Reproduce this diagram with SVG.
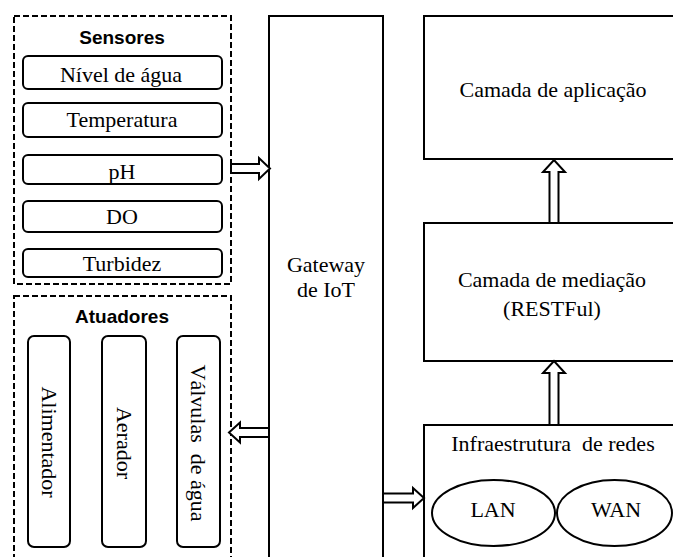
<svg xmlns="http://www.w3.org/2000/svg" width="673" height="557" viewBox="0 0 673 557">
<style>
.t{font-family:"Liberation Serif","Times New Roman",serif;font-size:22px;fill:#000;text-anchor:middle;white-space:pre}
.h{font-family:"Liberation Sans",Arial,sans-serif;font-size:19px;font-weight:bold;fill:#000;text-anchor:middle}
.box{fill:#fff;stroke:#000;stroke-width:2}
.dash{fill:none;stroke:#000;stroke-width:2;stroke-dasharray:6 3}
.arr{fill:#fff;stroke:#000;stroke-width:2;stroke-linejoin:miter}
</style>
<rect width="673" height="557" fill="#fff"/>
<g id="sensores">
<rect class="dash" x="14" y="16" width="217" height="268"/>
<text class="h" x="122" y="44">Sensores</text>
</g>
<g id="nivel"><rect class="box" x="23" y="56" width="199" height="33" rx="5"/><text class="t" x="121" y="82">Nível de água</text></g>
<g id="temperatura"><rect class="box" x="23" y="103" width="199" height="34" rx="5"/><text class="t" x="122" y="127">Temperatura</text></g>
<g id="ph"><rect class="box" x="23" y="155" width="199" height="29" rx="5"/><text class="t" x="122" y="179">pH</text></g>
<g id="do"><rect class="box" x="23" y="201" width="199" height="31" rx="5"/><text class="t" x="122" y="224">DO</text></g>
<g id="turbidez"><rect class="box" x="23" y="249" width="199" height="28" rx="5"/><text class="t" x="122" y="271">Turbidez</text></g>
<g id="atuadores">
<rect class="dash" x="14" y="296" width="217" height="275"/>
<text class="h" x="122" y="323">Atuadores</text>
</g>
<g id="alimentador"><rect class="box" x="28" y="336" width="42" height="211" rx="6"/><text class="t" transform="translate(49,442) rotate(90)" dominant-baseline="central">Alimentador</text></g>
<g id="aerador"><rect class="box" x="102" y="336" width="44" height="211" rx="6"/><text class="t" transform="translate(124,443) rotate(90)" dominant-baseline="central">Aerador</text></g>
<g id="valvulas"><rect class="box" x="177" y="336" width="43" height="211" rx="6"/><text class="t" transform="translate(198,443) rotate(90)" dominant-baseline="central">Válvulas  de água</text></g>
<g id="gateway">
<rect class="box" x="269" y="16" width="114" height="560"/>
<text class="t" x="326" y="272">Gateway</text>
<text class="t" x="326" y="297">de IoT</text>
</g>
<g id="aplicacao"><rect class="box" x="424" y="16" width="260" height="143"/><text class="t" x="553" y="97">Camada de aplicação</text></g>
<g id="mediacao"><rect class="box" x="424" y="223" width="260" height="138"/><text class="t" x="552" y="287">Camada de mediação</text><text class="t" x="552" y="316">(RESTFul)</text></g>
<g id="infra">
<rect class="box" x="424" y="425" width="260" height="150"/>
<text class="t" x="553" y="451">Infraestrutura  de redes</text>
</g>
<g id="lan"><ellipse class="box" cx="493.5" cy="513" rx="61.5" ry="33"/><text class="t" x="493" y="517">LAN</text></g>
<g id="wan"><ellipse class="box" cx="614.5" cy="513" rx="57.5" ry="33"/><text class="t" x="616" y="517">WAN</text></g>
<g id="connectors">
<polygon class="arr" points="231,164 259,164 259,158 270,168.5 259,179 259,173 231,173"/>
<polygon class="arr" points="269,428 240,428 240,422.5 229,432.5 240,442.5 240,437 269,437"/>
<polygon class="arr" points="383,493.5 413,493.5 413,488 424,498 413,508 413,502.5 383,502.5"/>
<polygon class="arr" points="549.5,223 549.5,172 543,172 554,160 565,172 558.5,172 558.5,223"/>
<polygon class="arr" points="549.5,425 549.5,373 543,373 554,361 565,373 558.5,373 558.5,425"/>
</g>
</svg>
